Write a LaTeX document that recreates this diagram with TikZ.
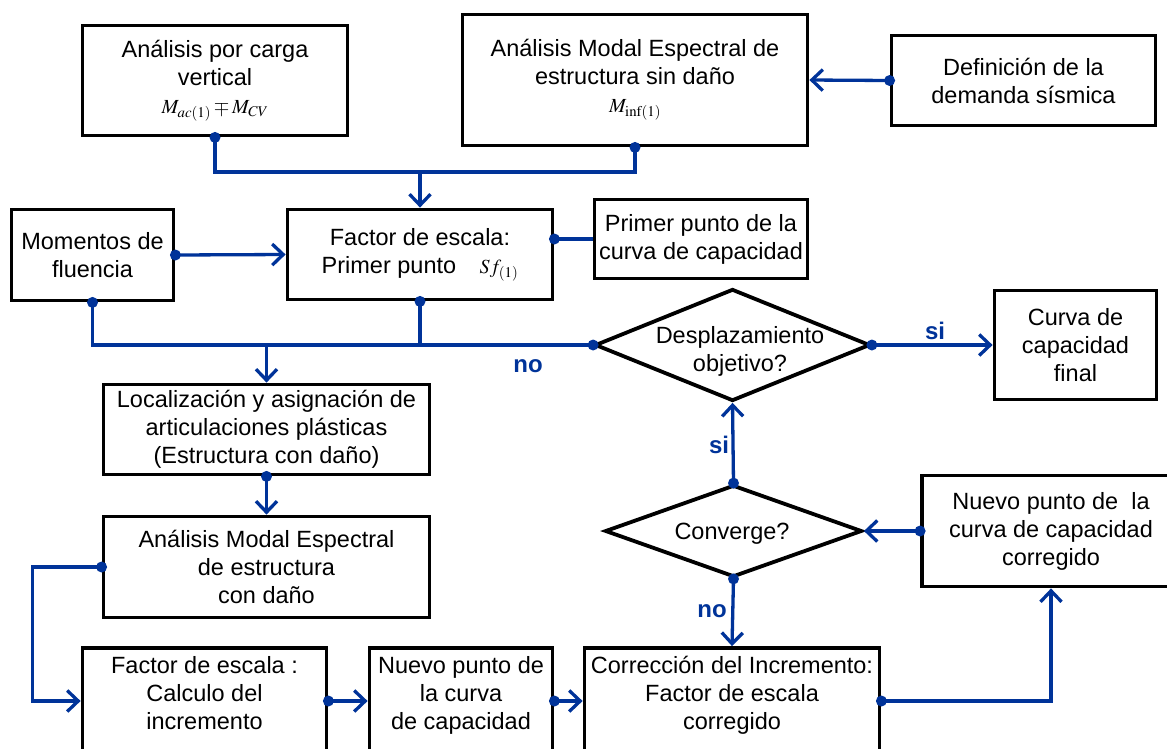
\documentclass[tikz,border=0pt]{standalone}
\usepackage{mathptmx}
\usepackage[no-math]{fontspec}
\setmainfont{Liberation Sans}
\usetikzlibrary{shapes.geometric,arrows.meta}
\definecolor{lineblue}{RGB}{0,51,153}

\begin{document}
\begin{tikzpicture}[x=1pt,y=-1pt,
    box/.style={draw=black,line width=3.8pt,align=center,inner sep=0pt,
      font=\fontsize{23.5}{28}\selectfont},
    lowbox/.style={box,inner ysep=8pt,text height=73pt,text depth=17pt},
    decision/.style={draw=black,line width=3.8pt,diamond,inner sep=0pt},
    conn/.style={lineblue,line width=3.3pt},
    flow/.style={conn,-{Straight Barb[length=11pt,width=21pt]}},
    answer/.style={font=\bfseries\fontsize{24}{28}\selectfont,text=lineblue,anchor=base}]
  \useasboundingbox (0,0) rectangle (1167,748);
  \clip (0,0) rectangle (1167,748);
  %\draw[very thin,gray,step=50] (0,0) grid (1167,748);

  % upper part
  \node[box,minimum width=265pt,minimum height=110pt] (carga) at (215,80.5)
    {Análisis por carga\\vertical\\{\fontsize{20}{28}\selectfont$M_{ac(1)}\mp M_{CV}$}};
  \node[box,minimum width=345pt,minimum height=131pt] (modal) at (635,80)
    {Análisis Modal Espectral de\\estructura sin daño\\{\fontsize{20}{28}\selectfont$M_{\mathrm{inf}(1)}$}};
  \node[box,minimum width=264pt,minimum height=90pt] (demanda) at (1023.5,80.5)
    {Definición de la\\demanda sísmica};
  \node[box,minimum width=162pt,minimum height=91pt] (fluencia) at (92.5,255)
    {Momentos de\\fluencia};
  \node[box,minimum width=265pt,minimum height=90pt] (factor) at (420,254.5)
    {Factor de escala:\\Primer punto\quad{\fontsize{20}{28}\selectfont$Sf_{(1)}$}};
  \node[box,minimum width=213pt,minimum height=79pt] (primer) at (701,239)
    {Primer punto de la\\curva de capacidad};

  % decisions
  \node[decision,minimum width=275pt,minimum height=112pt] (despl) at (732.5,345) {};
  \node[box,draw=none] (desplt) at (740,351) {Desplazamiento\\objetivo?};
  \node[box,minimum width=162pt,minimum height=109pt] (final) at (1075.5,345)
    {Curva de\\capacidad\\final};
  \node[decision,minimum width=257pt,minimum height=92pt] (conv) at (733.5,531) {};
  \node[box,draw=none] (convt) at (732,534) {Converge?};
  \node[box,minimum width=258pt,minimum height=111pt] (corregido) at (1051,531)
    {Nuevo punto de\ \ la\\curva de capacidad\\corregido};

  % left column
  \node[box,minimum width=326pt,minimum height=90pt] (rotulas) at (266.5,429.5)
    {Localización y asignación de\\articulaciones plásticas\\(Estructura con daño)};
  \node[box,minimum width=326pt,minimum height=101pt] (danado) at (266.5,567)
    {Análisis Modal Espectral\\de estructura\\con daño};

  % bottom row
  \node[lowbox,minimum width=244pt] (incremento) at (204.5,701)
    {Factor de escala :\\Calculo del\\incremento};
  \node[lowbox,minimum width=183pt] (nuevo) at (461,701)
    {Nuevo punto de\\la curva\\de capacidad};
  \node[lowbox,minimum width=295pt] (correccion) at (732,701)
    {Corrección del Incremento:\\Factor de escala\\corregido};

  % connectors
  \coordinate (jtop) at (420,172);
  \draw[conn] (carga.south) |- (jtop) -| (modal.south);
  \draw[flow] (jtop) -- (factor.north);
  \draw[flow] (demanda.west) -- (modal.east);
  \draw[flow] (fluencia.east) -- (factor.west);
  \coordinate (jcf) at (factor.east |- primer.west);
  \draw[conn] (jcf) -- (primer.west);
  \coordinate (jmid) at (rotulas.north |- despl.west);
  \draw[conn] (fluencia.south) |- (despl.west);
  \draw[conn] (factor.south) -- (factor.south |- despl.west);
  \draw[flow] (jmid) -- (rotulas.north);
  \draw[flow] (despl.east) -- (final.west);
  \draw[flow] (conv.north) -- (despl.south);
  \draw[flow] (corregido.west) -- (conv.east);
  \draw[flow] (conv.south) -- (correccion.north);
  \draw[flow] (rotulas.south) -- (danado.north);
  \coordinate (jleft) at ([xshift=-69pt]danado.west);
  \draw[flow] (danado.west) -- (jleft) |- (incremento.west);
  \draw[flow] (incremento.east) -- (nuevo.west);
  \draw[flow] (nuevo.east) -- (correccion.west);
  \draw[flow] (correccion.east) -| (corregido.south);

  \foreach \p in {carga.south,modal.south,demanda.west,fluencia.east,jcf,
      fluencia.south,factor.south,despl.west,despl.east,conv.north,conv.south,
      corregido.west,rotulas.south,danado.west,incremento.east,nuevo.east,
      correccion.east}
    \fill[lineblue] (\p) circle (5.5pt);

  % answers
  \node[answer] (no1) at (528,372) {no};
  \node[answer] (si1) at (935,339) {si};
  \node[answer] (si2) at (719,453) {si};
  \node[answer] (no2) at (712,617) {no};
\end{tikzpicture}
\end{document}
